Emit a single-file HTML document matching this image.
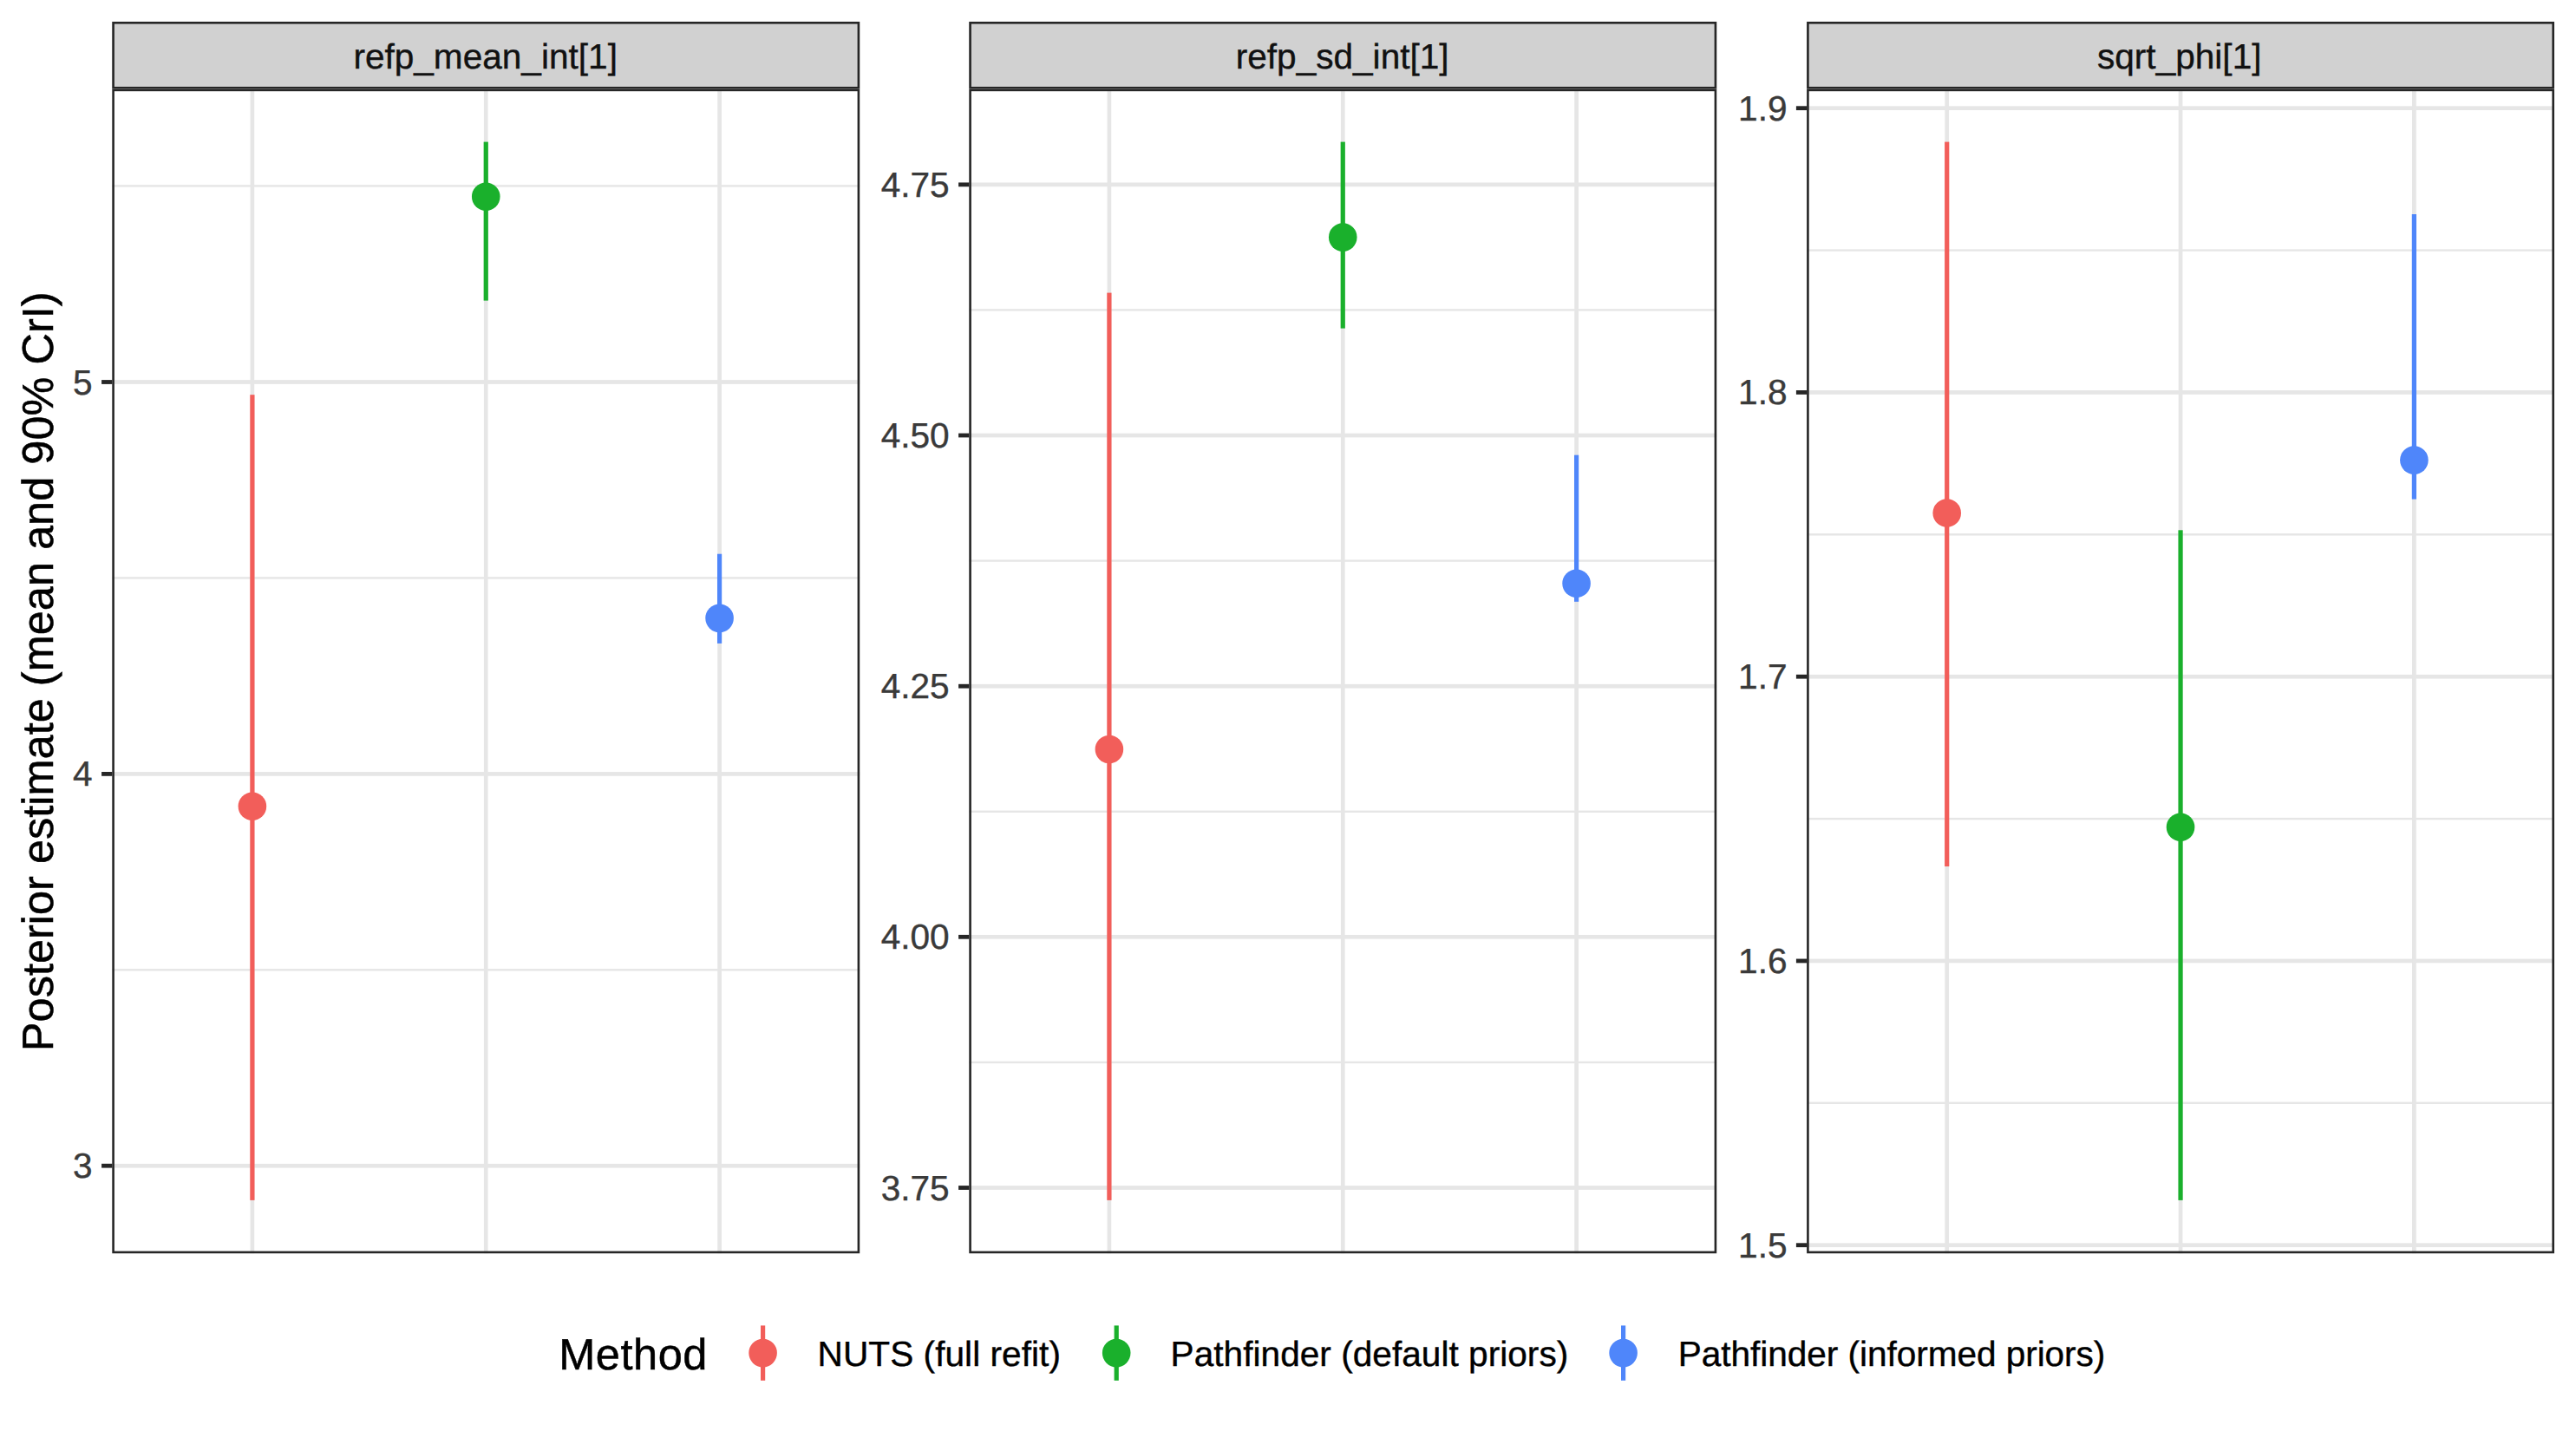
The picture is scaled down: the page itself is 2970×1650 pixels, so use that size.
<!DOCTYPE html>
<html lang="en"><head><meta charset="utf-8"><title>Posterior estimate (mean and 90% CrI)</title>
<style>
html,body{margin:0;padding:0;background:#fff;}
body{width:2970px;height:1650px;overflow:hidden;}
svg{display:block;font-family:"Liberation Sans",Arial,Helvetica,sans-serif;text-rendering:geometricPrecision;}
.g{fill:#E6E6E6;}
.t{fill:#262626;}
.b{fill:none;stroke:#262626;stroke-width:2.6;}
.s{font-size:40.6px;stroke-width:0.4;}
.l{font-size:50.5px;stroke-width:0.5;}
.st{fill:#111111;stroke:#111111;}
.ax{fill:#3A3A3A;stroke:#3A3A3A;}
.k{fill:#000;stroke:#000;}
</style></head><body>
<svg width="2970" height="1650" viewBox="0 0 2970 1650">
<rect width="2970" height="1650" fill="#fff"/>
<g>
<rect class="g" x="129.3" y="213.2" width="861.9" height="2.4"/>
<rect class="g" x="129.3" y="665.2" width="861.9" height="2.4"/>
<rect class="g" x="129.3" y="1117.1" width="861.9" height="2.4"/>
<rect class="g" x="129.3" y="438.15" width="861.9" height="4.7"/>
<rect class="g" x="129.3" y="890.05" width="861.9" height="4.7"/>
<rect class="g" x="129.3" y="1341.85" width="861.9" height="4.7"/>
<rect class="g" x="288.56" y="102.6" width="4.7" height="1342.6"/>
<rect class="g" x="557.9" y="102.6" width="4.7" height="1342.6"/>
<rect class="g" x="827.24" y="102.6" width="4.7" height="1342.6"/>
<rect x="288.31" y="455.2" width="5.2" height="928.7" fill="#F25E5A"/>
<circle cx="290.91" cy="929.7" r="16.3" fill="#F25E5A"/>
<rect x="557.65" y="163.6" width="5.2" height="183" fill="#1AB02C"/>
<circle cx="560.25" cy="226.8" r="16.3" fill="#1AB02C"/>
<rect x="826.99" y="638.7" width="5.2" height="103.2" fill="#4F86FA"/>
<circle cx="829.59" cy="712.85" r="16.3" fill="#4F86FA"/>
<rect class="b" x="130.6" y="103.9" width="859.3" height="1340"/>
<rect x="129.3" y="25" width="861.9" height="77.6" fill="#D1D1D1"/>
<rect class="b" x="130.6" y="26.3" width="859.3" height="75"/>
<text class="s st" x="559.65" y="78.7" text-anchor="middle">refp_mean_int[1]</text>
<rect class="t" x="117.1" y="438.1" width="12.2" height="4.8"/>
<text class="s ax" x="106.7" y="454.5" text-anchor="end">5</text>
<rect class="t" x="117.1" y="890" width="12.2" height="4.8"/>
<text class="s ax" x="106.7" y="906.4" text-anchor="end">4</text>
<rect class="t" x="117.1" y="1341.8" width="12.2" height="4.8"/>
<text class="s ax" x="106.7" y="1358.2" text-anchor="end">3</text>
</g>
<g>
<rect class="g" x="1117.3" y="356.2" width="861.9" height="2.4"/>
<rect class="g" x="1117.3" y="645.4" width="861.9" height="2.4"/>
<rect class="g" x="1117.3" y="934.6" width="861.9" height="2.4"/>
<rect class="g" x="1117.3" y="1223.7" width="861.9" height="2.4"/>
<rect class="g" x="1117.3" y="210.5" width="861.9" height="4.7"/>
<rect class="g" x="1117.3" y="499.65" width="861.9" height="4.7"/>
<rect class="g" x="1117.3" y="788.85" width="861.9" height="4.7"/>
<rect class="g" x="1117.3" y="1077.95" width="861.9" height="4.7"/>
<rect class="g" x="1117.3" y="1367.15" width="861.9" height="4.7"/>
<rect class="g" x="1276.56" y="102.6" width="4.7" height="1342.6"/>
<rect class="g" x="1545.9" y="102.6" width="4.7" height="1342.6"/>
<rect class="g" x="1815.24" y="102.6" width="4.7" height="1342.6"/>
<rect x="1276.31" y="337.6" width="5.2" height="1046.3" fill="#F25E5A"/>
<circle cx="1278.91" cy="864" r="16.3" fill="#F25E5A"/>
<rect x="1545.65" y="163.6" width="5.2" height="215" fill="#1AB02C"/>
<circle cx="1548.25" cy="273.6" r="16.3" fill="#1AB02C"/>
<rect x="1814.99" y="524.7" width="5.2" height="169.1" fill="#4F86FA"/>
<circle cx="1817.59" cy="672.8" r="16.3" fill="#4F86FA"/>
<rect class="b" x="1118.6" y="103.9" width="859.3" height="1340"/>
<rect x="1117.3" y="25" width="861.9" height="77.6" fill="#D1D1D1"/>
<rect class="b" x="1118.6" y="26.3" width="859.3" height="75"/>
<text class="s st" x="1547.65" y="78.7" text-anchor="middle">refp_sd_int[1]</text>
<rect class="t" x="1105.1" y="210.45" width="12.2" height="4.8"/>
<text class="s ax" x="1094.7" y="226.85" text-anchor="end">4.75</text>
<rect class="t" x="1105.1" y="499.6" width="12.2" height="4.8"/>
<text class="s ax" x="1094.7" y="516" text-anchor="end">4.50</text>
<rect class="t" x="1105.1" y="788.8" width="12.2" height="4.8"/>
<text class="s ax" x="1094.7" y="805.2" text-anchor="end">4.25</text>
<rect class="t" x="1105.1" y="1077.9" width="12.2" height="4.8"/>
<text class="s ax" x="1094.7" y="1094.3" text-anchor="end">4.00</text>
<rect class="t" x="1105.1" y="1367.1" width="12.2" height="4.8"/>
<text class="s ax" x="1094.7" y="1383.5" text-anchor="end">3.75</text>
</g>
<g>
<rect class="g" x="2083.1" y="287.4" width="861.9" height="2.4"/>
<rect class="g" x="2083.1" y="615.1" width="861.9" height="2.4"/>
<rect class="g" x="2083.1" y="942.9" width="861.9" height="2.4"/>
<rect class="g" x="2083.1" y="1270.6" width="861.9" height="2.4"/>
<rect class="g" x="2083.1" y="122.35" width="861.9" height="4.7"/>
<rect class="g" x="2083.1" y="450.1" width="861.9" height="4.7"/>
<rect class="g" x="2083.1" y="777.85" width="861.9" height="4.7"/>
<rect class="g" x="2083.1" y="1105.6" width="861.9" height="4.7"/>
<rect class="g" x="2083.1" y="1433.35" width="861.9" height="4.7"/>
<rect class="g" x="2242.36" y="102.6" width="4.7" height="1342.6"/>
<rect class="g" x="2511.7" y="102.6" width="4.7" height="1342.6"/>
<rect class="g" x="2781.04" y="102.6" width="4.7" height="1342.6"/>
<rect x="2242.11" y="163.6" width="5.2" height="835.4" fill="#F25E5A"/>
<circle cx="2244.71" cy="591.5" r="16.3" fill="#F25E5A"/>
<rect x="2511.45" y="611.3" width="5.2" height="772.6" fill="#1AB02C"/>
<circle cx="2514.05" cy="953.7" r="16.3" fill="#1AB02C"/>
<rect x="2780.79" y="247" width="5.2" height="328.6" fill="#4F86FA"/>
<circle cx="2783.39" cy="530.6" r="16.3" fill="#4F86FA"/>
<rect class="b" x="2084.4" y="103.9" width="859.3" height="1340"/>
<rect x="2083.1" y="25" width="861.9" height="77.6" fill="#D1D1D1"/>
<rect class="b" x="2084.4" y="26.3" width="859.3" height="75"/>
<text class="s st" x="2512.75" y="78.7" text-anchor="middle">sqrt_phi[1]</text>
<rect class="t" x="2070.9" y="122.3" width="12.2" height="4.8"/>
<text class="s ax" x="2060.5" y="138.7" text-anchor="end">1.9</text>
<rect class="t" x="2070.9" y="450.05" width="12.2" height="4.8"/>
<text class="s ax" x="2060.5" y="466.45" text-anchor="end">1.8</text>
<rect class="t" x="2070.9" y="777.8" width="12.2" height="4.8"/>
<text class="s ax" x="2060.5" y="794.2" text-anchor="end">1.7</text>
<rect class="t" x="2070.9" y="1105.55" width="12.2" height="4.8"/>
<text class="s ax" x="2060.5" y="1121.95" text-anchor="end">1.6</text>
<rect class="t" x="2070.9" y="1433.3" width="12.2" height="4.8"/>
<text class="s ax" x="2060.5" y="1449.7" text-anchor="end">1.5</text>
</g>
<text class="l k" transform="translate(61 774.3) rotate(-90)" text-anchor="middle">Posterior estimate (mean and 90% CrI)</text>
<text class="l k" x="644.2" y="1578.7" letter-spacing="0.55">Method</text>
<rect x="877" y="1528.4" width="5.2" height="63.4" fill="#F25E5A"/>
<circle cx="879.6" cy="1560.1" r="16.3" fill="#F25E5A"/>
<text class="s k" x="942.6" y="1575" letter-spacing="0.05">NUTS (full refit)</text>
<rect x="1284.6" y="1528.4" width="5.2" height="63.4" fill="#1AB02C"/>
<circle cx="1287.2" cy="1560.1" r="16.3" fill="#1AB02C"/>
<text class="s k" x="1349.6" y="1575" letter-spacing="0.03">Pathfinder (default priors)</text>
<rect x="1869" y="1528.4" width="5.2" height="63.4" fill="#4F86FA"/>
<circle cx="1871.6" cy="1560.1" r="16.3" fill="#4F86FA"/>
<text class="s k" x="1934.8" y="1575" letter-spacing="-0.05">Pathfinder (informed priors)</text>
</svg>
</body></html>
